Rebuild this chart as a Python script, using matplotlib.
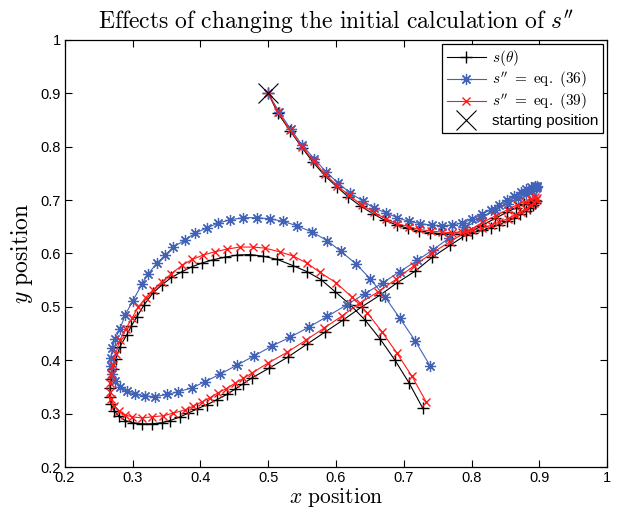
import numpy as np
import matplotlib
matplotlib.use("Agg")
import matplotlib.pyplot as plt

plt.rcParams['mathtext.fontset'] = 'cm'
plt.rcParams['font.family'] = ['Liberation Sans', 'DejaVu Sans']

# s(theta)
black_x = [0.500, 0.514, 0.532, 0.550, 0.566, 0.584, 0.601, 0.618, 0.637, 0.655, 0.672, 0.690, 0.706, 0.722, 0.739,
           0.755, 0.771, 0.786, 0.801, 0.815, 0.828, 0.840, 0.852, 0.863, 0.872, 0.880, 0.886, 0.891, 0.894, 0.895,
           0.893, 0.886, 0.877, 0.866, 0.852, 0.835, 0.815, 0.792, 0.768,
           0.742, 0.717, 0.690, 0.665, 0.638, 0.610, 0.584, 0.557, 0.529, 0.501, 0.476, 0.463, 0.451, 0.439, 0.424,
           0.410, 0.395, 0.382, 0.370, 0.355, 0.343, 0.328, 0.314, 0.300, 0.289, 0.280, 0.273, 0.268, 0.266, 0.266,
           0.268, 0.271, 0.275, 0.281, 0.291, 0.298, 0.306, 0.317, 0.330, 0.343, 0.357, 0.373, 0.387, 0.402, 0.418,
           0.436, 0.454, 0.473, 0.492, 0.513, 0.537, 0.557, 0.578, 0.599, 0.621, 0.643, 0.665, 0.687, 0.708, 0.728]
black_y = [0.900, 0.863, 0.830, 0.798, 0.771, 0.745, 0.725, 0.706, 0.688, 0.674, 0.662, 0.653, 0.647, 0.642, 0.639,
           0.637, 0.636, 0.636, 0.639, 0.643, 0.648, 0.654, 0.660, 0.666, 0.673, 0.679, 0.685, 0.690, 0.695, 0.699,
           0.701, 0.697, 0.692, 0.686, 0.677, 0.666, 0.652, 0.635, 0.615,
           0.593, 0.567, 0.545, 0.522, 0.500, 0.475, 0.453, 0.430, 0.406, 0.385, 0.367, 0.356, 0.346, 0.336, 0.326,
           0.317, 0.309, 0.301, 0.294, 0.287, 0.283, 0.281, 0.281, 0.283, 0.287, 0.295, 0.305, 0.318, 0.332, 0.348,
           0.365, 0.383, 0.402, 0.425, 0.447, 0.464, 0.481, 0.504, 0.526, 0.541, 0.555, 0.566, 0.575, 0.582, 0.588,
           0.593, 0.597, 0.598, 0.595, 0.589, 0.577, 0.566, 0.551, 0.528, 0.504, 0.475, 0.440, 0.400, 0.357, 0.310]

# s'' = eq. (36)
blue_x = [0.500, 0.516, 0.533, 0.550, 0.568, 0.585, 0.603, 0.621, 0.640, 0.656, 0.674, 0.690, 0.708, 0.724, 0.742,
          0.756, 0.771, 0.786, 0.801, 0.815, 0.828, 0.840, 0.852, 0.863, 0.873, 0.881, 0.888, 0.893, 0.896, 0.897,
          0.895, 0.889, 0.880, 0.868, 0.853, 0.835, 0.814, 0.791, 0.767,
          0.743, 0.720, 0.694, 0.669, 0.643, 0.616, 0.587, 0.560, 0.532, 0.506, 0.479, 0.454, 0.429, 0.407, 0.387,
          0.367, 0.351, 0.333, 0.318, 0.303, 0.291, 0.281, 0.274, 0.270, 0.268, 0.268,
          0.270, 0.274, 0.281, 0.289, 0.300, 0.314, 0.323, 0.336, 0.348, 0.360, 0.377, 0.392, 0.410, 0.426, 0.444,
          0.463, 0.483, 0.503, 0.522, 0.542, 0.565, 0.587, 0.607, 0.630, 0.650, 0.672, 0.694, 0.717, 0.739]
blue_y = [0.900, 0.865, 0.833, 0.803, 0.777, 0.753, 0.732, 0.713, 0.698, 0.685, 0.676, 0.667, 0.660, 0.656, 0.653,
          0.652, 0.653, 0.657, 0.664, 0.673, 0.682, 0.691, 0.700, 0.708, 0.715, 0.720, 0.724, 0.726, 0.727, 0.725,
          0.722, 0.717, 0.711, 0.703, 0.693, 0.681, 0.666, 0.649, 0.629,
          0.607, 0.587, 0.566, 0.545, 0.525, 0.504, 0.482, 0.462, 0.443, 0.427, 0.408, 0.391, 0.374, 0.360, 0.348,
          0.341, 0.336, 0.332, 0.333, 0.336, 0.342, 0.350, 0.361, 0.374, 0.390, 0.405,
          0.423, 0.440, 0.458, 0.485, 0.511, 0.543, 0.562, 0.582, 0.597, 0.612, 0.625, 0.638, 0.648, 0.657, 0.663,
          0.667, 0.667, 0.665, 0.660, 0.652, 0.640, 0.624, 0.604, 0.580, 0.553, 0.519, 0.479, 0.436, 0.389]

# s'' = eq. (39)
red_x = [0.500, 0.515, 0.532, 0.550, 0.567, 0.584, 0.602, 0.619, 0.638, 0.656, 0.673, 0.690, 0.707, 0.723, 0.740,
         0.756, 0.771, 0.786, 0.801, 0.815, 0.829, 0.841, 0.853, 0.864, 0.873, 0.881, 0.887, 0.892, 0.895, 0.896,
         0.894, 0.888, 0.879, 0.867, 0.853, 0.836, 0.816, 0.793, 0.768,
         0.742, 0.715, 0.689, 0.662, 0.635, 0.609, 0.582, 0.556, 0.528, 0.500, 0.476, 0.463, 0.451, 0.438, 0.426,
         0.414, 0.402, 0.389, 0.377, 0.360, 0.345, 0.328, 0.314, 0.299, 0.288, 0.280, 0.273, 0.268, 0.266, 0.266,
         0.268, 0.271, 0.275, 0.281, 0.290, 0.299, 0.308, 0.319, 0.330, 0.343, 0.357, 0.373, 0.388, 0.404, 0.421,
         0.439, 0.458, 0.477, 0.495, 0.517, 0.537, 0.557, 0.576, 0.600, 0.623, 0.646, 0.668, 0.690, 0.712, 0.733]
red_y = [0.900, 0.864, 0.831, 0.800, 0.773, 0.748, 0.727, 0.709, 0.691, 0.677, 0.665, 0.656, 0.650, 0.645, 0.642,
         0.640, 0.639, 0.640, 0.643, 0.647, 0.653, 0.659, 0.665, 0.672, 0.678, 0.684, 0.690, 0.695, 0.700, 0.704,
         0.706, 0.702, 0.697, 0.691, 0.682, 0.671, 0.658, 0.641, 0.622,
         0.601, 0.577, 0.552, 0.528, 0.507, 0.483, 0.460, 0.438, 0.415, 0.395, 0.376, 0.366, 0.357, 0.347, 0.339,
         0.330, 0.322, 0.314, 0.307, 0.301, 0.296, 0.294, 0.292, 0.294, 0.298, 0.305, 0.315, 0.327, 0.341, 0.357,
         0.374, 0.392, 0.412, 0.438, 0.459, 0.479, 0.499, 0.517, 0.532, 0.547, 0.562, 0.578, 0.589, 0.597, 0.603,
         0.608, 0.612, 0.612, 0.610, 0.603, 0.595, 0.582, 0.565, 0.545, 0.519, 0.489, 0.453, 0.413, 0.370, 0.322]

start_x = [0.5]
start_y = [0.9]

xticks = [0.2, 0.3, 0.4, 0.5, 0.6, 0.7, 0.8, 0.9, 1.0]
yticks = [0.2, 0.3, 0.4, 0.5, 0.6, 0.7, 0.8, 0.9, 1.0]
tick_labels = ['0.2', '0.3', '0.4', '0.5', '0.6', '0.7', '0.8', '0.9', '1']

fig = plt.figure(figsize=(6.24, 5.11), dpi=100)
ax = fig.add_axes([0.104, 0.086, 0.869, 0.836])

# matlab style '*' marker = plus and cross combined
asterisk = (8, 2, 0)

ax.plot(black_x, black_y, color='black', marker='+', markersize=8, linewidth=0.8,
        label=r'$s(\theta)$')
ax.plot(blue_x, blue_y, color='#4262b8', marker=asterisk, markersize=8, linewidth=0.8,
        markeredgewidth=0.9, label=r"$s''\ =\ \mathrm{eq.}\ (36)$")
ax.plot(red_x, red_y, color='#ff1a1a', marker='x', markersize=5.5, linewidth=0.8,
        label=r"$s''\ =\ \mathrm{eq.}\ (39)$")
ax.plot(start_x, start_y, linestyle='none', color='black', marker='x', markersize=14,
        markeredgewidth=0.8, label='starting position')

ax.set_xlim(0.2, 1.0)
ax.set_ylim(0.2, 1.0)
ax.set_xticks(xticks)
ax.set_xticklabels(tick_labels)
ax.set_yticks(yticks)
ax.set_yticklabels(tick_labels)
ax.tick_params(direction='in', top=True, right=True, labelsize=10.5, length=5)
ax.tick_params(axis='x', pad=3)
ax.tick_params(axis='y', pad=3)
for s in ax.spines.values():
    s.set_linewidth(0.9)

ax.set_title(r"$\mathrm{Effects\ of\ changing\ the\ initial\ calculation\ of\ }s''$", fontsize=17, pad=8)
ax.set_xlabel(r"$x\ \mathrm{position}$", fontsize=15.5, labelpad=0.5)
ax.set_ylabel(r"$y\ \mathrm{position}$", fontsize=17, labelpad=4)

leg = ax.legend(loc='upper right', fontsize=11, fancybox=False, framealpha=1,
                edgecolor='black', borderaxespad=0.25, handlelength=2.6,
                borderpad=0.3, labelspacing=0.12, handletextpad=0.4)
leg.get_frame().set_linewidth(0.9)

fig.savefig('out.png', dpi=100)
